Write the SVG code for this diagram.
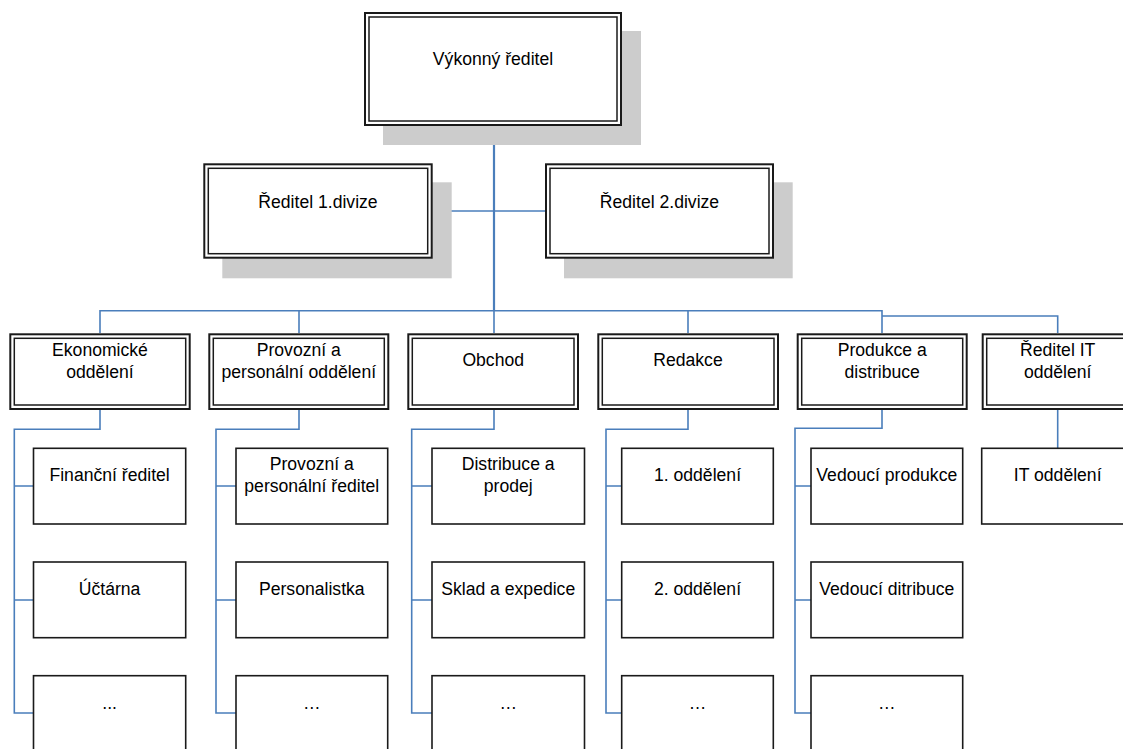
<svg xmlns="http://www.w3.org/2000/svg" width="1123" height="749" viewBox="0 0 1123 749">
<style>
.bg{fill:#ffffff}
.sh{fill:#cccccc;stroke:none}
.o{fill:#ffffff;stroke:#1a1a1a;stroke-width:2}
.i{fill:none;stroke:#1a1a1a;stroke-width:1.5}
.s{fill:#ffffff;stroke:#1a1a1a;stroke-width:1.6}
.t{font-family:"Liberation Sans",Arial,sans-serif;font-size:17.6px;fill:#000000;text-anchor:middle}
.c{fill:none;stroke:#4a7ebb;stroke-width:1.6}
.cm{fill:none;stroke:#4a7ebb;stroke-width:2.2}
</style>
<rect class="bg" x="0" y="0" width="1123" height="749"/>
<g id="connectors">
<path class="cm" d="M494,126 V310.7"/>
<path class="c" d="M432.5,211 H545"/>
<path class="c" d="M100,333 V310.7 H882 V333"/>
<path class="c" d="M299,310.7 V333"/>
<path class="c" d="M494,310.7 V333"/>
<path class="c" d="M688,310.7 V333"/>
<path class="c" d="M882,316 H1057.7 V333"/>
<path class="c" d="M100,410 V429.3 H14.3 V713 H33.5 M14.3,486 H33.5 M14.3,600 H33.5"/>
<path class="c" d="M299,410 V429.3 H216 V713 H236 M216,486 H236 M216,600 H236"/>
<path class="c" d="M494,410 V429.3 H411.7 V713 H432 M411.7,486 H432 M411.7,600 H432"/>
<path class="c" d="M688,410 V429.3 H606 V713 H621.7 M606,486 H621.7 M606,600 H621.7"/>
<path class="c" d="M882,410 V428.3 H795 V713 H811 M795,486 H811 M795,600 H811"/>
<path class="c" d="M1057.7,410 V448"/>
</g>
<g id="n-vykonny">
<rect class="sh" x="383" y="31" width="258" height="114"/>
<rect class="o" x="365" y="13" width="256" height="112"/>
<rect class="i" x="369" y="17" width="248" height="104"/>
<text class="t" x="493" y="65">Výkonný ředitel</text>
</g>
<g id="n-div1">
<rect class="sh" x="222.3" y="182.3" width="229.4" height="96"/>
<rect class="o" x="204.3" y="164.3" width="227.4" height="93.4"/>
<rect class="i" x="208.3" y="168.3" width="219.4" height="85.4"/>
<text class="t" x="318" y="208.3">Ředitel 1.divize</text>
</g>
<g id="n-div2">
<rect class="sh" x="564" y="182.3" width="228.7" height="96"/>
<rect class="o" x="546" y="164.3" width="227" height="93.4"/>
<rect class="i" x="550" y="168.3" width="219" height="85.4"/>
<text class="t" x="659.5" y="208.3">Ředitel 2.divize</text>
</g>
<g id="n-ekon">
<rect class="o" x="10.3" y="334.3" width="179.4" height="74.7"/>
<rect class="i" x="14.3" y="338.3" width="171.4" height="66.7"/>
<text class="t" x="100" y="355.7">Ekonomické</text>
<text class="t" x="100" y="378">oddělení</text>
</g>
<g id="n-prov">
<rect class="o" x="209.3" y="334.3" width="179" height="74.7"/>
<rect class="i" x="213.3" y="338.3" width="171" height="66.7"/>
<text class="t" x="298.8" y="355.7">Provozní a</text>
<text class="t" x="298.8" y="378">personální oddělení</text>
</g>
<g id="n-obchod">
<rect class="o" x="408.3" y="334.3" width="169.7" height="74.7"/>
<rect class="i" x="412.3" y="338.3" width="161.7" height="66.7"/>
<text class="t" x="493.2" y="366">Obchod</text>
</g>
<g id="n-redakce">
<rect class="o" x="598.3" y="334.3" width="179.7" height="74.7"/>
<rect class="i" x="602.3" y="338.3" width="171.7" height="66.7"/>
<text class="t" x="688" y="366">Redakce</text>
</g>
<g id="n-produkce">
<rect class="o" x="797.7" y="334.3" width="169" height="74.7"/>
<rect class="i" x="801.7" y="338.3" width="161" height="66.7"/>
<text class="t" x="882.2" y="355.7">Produkce a</text>
<text class="t" x="882.2" y="378">distribuce</text>
</g>
<g id="n-it">
<rect class="o" x="982.7" y="334.3" width="150" height="74.7"/>
<rect class="i" x="986.7" y="338.3" width="142" height="66.7"/>
<text class="t" x="1057.7" y="355.7">Ředitel IT</text>
<text class="t" x="1057.7" y="378">oddělení</text>
</g>
<g id="n-c1r1"><rect class="s" x="33.5" y="448.3" width="152.2" height="75.7"/><text class="t" x="109.6" y="481.3">Finanční ředitel</text></g>
<g id="n-c1r2"><rect class="s" x="33.5" y="562" width="152.2" height="75.7"/><text class="t" x="109.6" y="594.5">Účtárna</text></g>
<g id="n-c1r3"><rect class="s" x="33.5" y="675.7" width="152.2" height="75.7"/><text class="t" x="109.6" y="708.7">...</text></g>
<g id="n-c2r1"><rect class="s" x="236" y="448.3" width="151.7" height="75.7"/><text class="t" x="311.8" y="470">Provozní a</text><text class="t" x="311.8" y="491.7">personální ředitel</text></g>
<g id="n-c2r2"><rect class="s" x="236" y="562" width="151.7" height="75.7"/><text class="t" x="311.8" y="594.5">Personalistka</text></g>
<g id="n-c2r3"><rect class="s" x="236" y="675.7" width="151.7" height="75.7"/><text class="t" x="311.8" y="708.7">…</text></g>
<g id="n-c3r1"><rect class="s" x="432" y="448.3" width="152.5" height="75.7"/><text class="t" x="508.2" y="470">Distribuce a</text><text class="t" x="508.2" y="491.7">prodej</text></g>
<g id="n-c3r2"><rect class="s" x="432" y="562" width="152.5" height="75.7"/><text class="t" x="508.2" y="594.5">Sklad a expedice</text></g>
<g id="n-c3r3"><rect class="s" x="432" y="675.7" width="152.5" height="75.7"/><text class="t" x="508.2" y="708.7">…</text></g>
<g id="n-c4r1"><rect class="s" x="621.7" y="448.3" width="151.6" height="75.7"/><text class="t" x="697.5" y="481.3">1. oddělení</text></g>
<g id="n-c4r2"><rect class="s" x="621.7" y="562" width="151.6" height="75.7"/><text class="t" x="697.5" y="594.5">2. oddělení</text></g>
<g id="n-c4r3"><rect class="s" x="621.7" y="675.7" width="151.6" height="75.7"/><text class="t" x="697.5" y="708.7">…</text></g>
<g id="n-c5r1"><rect class="s" x="811" y="448.3" width="151.7" height="75.7"/><text class="t" x="886.8" y="481.3">Vedoucí produkce</text></g>
<g id="n-c5r2"><rect class="s" x="811" y="562" width="151.7" height="75.7"/><text class="t" x="886.8" y="594.5">Vedoucí ditribuce</text></g>
<g id="n-c5r3"><rect class="s" x="811" y="675.7" width="151.7" height="75.7"/><text class="t" x="886.8" y="708.7">…</text></g>
<g id="n-c6r1"><rect class="s" x="981.7" y="448.3" width="152" height="75.7"/><text class="t" x="1057.7" y="481.3">IT oddělení</text></g>
</svg>
